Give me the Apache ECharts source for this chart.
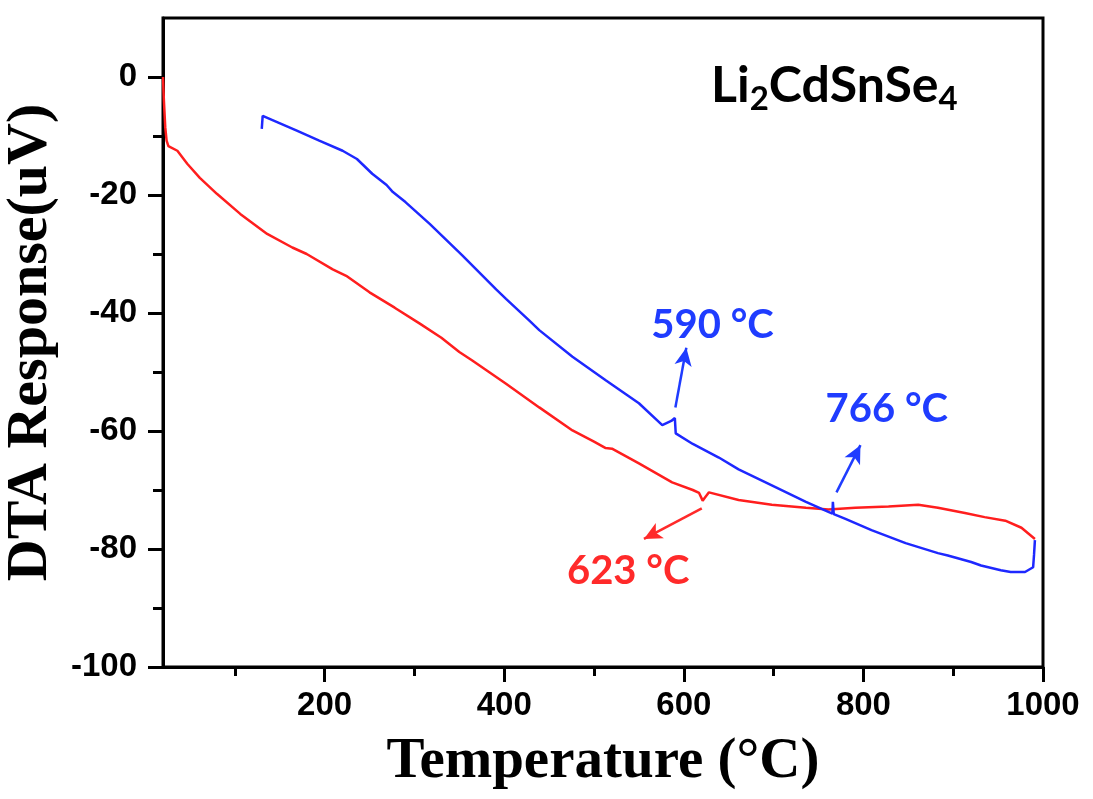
<!DOCTYPE html>
<html>
<head>
<meta charset="utf-8">
<script src="https://cdn.jsdelivr.net/npm/echarts@6/dist/echarts.min.js"></script>
<style>
html,body{margin:0;padding:0;background:#fff;}
#c{width:1093px;height:799px;}
</style>
</head>
<body>
<div id="c"></div>
<script>
// Heating curve (red): [Temperature °C, DTA uV]
var heating = [
  [20,0],[21,-4],[22.5,-8.5],[24,-10.8],[26,-11.7],[36,-12.5],[47,-14.7],[61,-17.1],
  [80,-19.8],[106,-23.2],[136,-26.6],[164,-28.9],[180,-30.0],[209,-32.6],[224,-33.7],
  [250,-36.5],[278,-39.1],[306,-41.8],[330,-44.2],[350,-46.6],[364,-48.0],[402,-52.0],
  [439,-56.0],[476,-59.9],[500,-61.8],[513,-62.9],[520,-63.0],[550,-65.5],[587,-68.7],
  [610,-70.0],[617,-70.5],[621,-71.8],[624,-71.2],[628,-70.4],[661,-71.7],[698,-72.5],
  [736,-73.0],[761,-73.3],[791,-73.0],[828,-72.8],[861,-72.5],[883,-73.0],[913,-73.9],
  [935,-74.6],[958,-75.2],[976,-76.4],[991,-78.3]
];
// Cooling curve (blue), in time order (temperature decreasing)
var cooling = [
  [991,-78.5],[990,-81.0],[989,-83.1],[980,-83.9],[964,-83.9],[953,-83.6],[931,-82.8],
  [920,-82.2],[894,-81.1],[883,-80.7],[847,-79.0],[809,-76.8],[780,-74.9],[767,-74.1],
  [766,-72.0],[765.5,-74.0],[761,-73.7],[736,-72.0],[698,-69.2],[661,-66.5],[639,-64.5],
  [610,-62.2],[591,-60.4],[590,-57.8],[586,-58.3],[576,-59.0],[550,-55.3],[513,-51.4],
  [476,-47.4],[439,-42.9],[428,-41.3],[402,-37.6],[391,-36.0],[353,-30.2],[317,-24.9],
  [290,-21.2],[276,-19.5],[269,-18.3],[253,-16.4],[236,-13.9],[220,-12.5],[194,-10.8],
  [169,-9.1],[131,-6.6],[130,-6.9],[130,-8.8]
];
var xTicks = [200,400,600,800,1000];
var xMinorTicks = [100,300,500,700,900];
var yTicks = [0,-20,-40,-60,-80,-100];
var yMinorTicks = [-10,-30,-50,-70,-90];

// Annotations
var annotTexts = ['590 °C','766 °C','623 °C'];
var annotPos = [[632,-42.1],[826,-56.3],[538,-83.8]];
var arrowFrom = [[590.6,-56.0],[770,-70.4],[620,-73.1]];
var arrowTo = [[602.8,-45.9],[796.7,-62.4],[555.6,-78.3]];
var annotColors = ['#1f3cff','#1f3cff','#ff2a2a'];

var RED = '#ff1e1e', BLUE = '#1e28ff';

function arrow(i){
  return {
    silent:true, symbol:['none','arrow'], symbolSize:[13,18], animation:false,
    label:{show:false},
    lineStyle:{color:annotColors[i], width:2.5, type:'solid'},
    data:[[{coord:arrowFrom[i]},{coord:arrowTo[i]}]]
  };
}

var tickFont = {fontFamily:'Liberation Sans', fontWeight:'bold', fontSize:33, color:'#000',
  formatter:function(v){ return String(v); }};
var chart = echarts.init(document.getElementById('c'), null, {renderer:'canvas'});
chart.setOption({
  animation:false,
  backgroundColor:'#fff',
  grid:{left:163, right:50, top:18, bottom:132, show:true, borderColor:'#000', borderWidth:3,
    backgroundColor:'transparent', containLabel:false, outerBoundsMode:'none'},
  title:{
    text:'{a|Li}{s|2}{a|CdSnSe}{s|4}',
    left:706, top:50,
    textStyle:{rich:{
      a:{fontFamily:'Lato', fontWeight:'bold', fontSize:50, color:'#000'},
      s:{fontFamily:'Lato', fontWeight:'bold', fontSize:33, color:'#000', padding:[28,0,0,0]}
    }}
  },
  xAxis:[{
    type:'value', min:20, max:1000,
    name:'Temperature (°C)', nameLocation:'middle', nameGap:67,
    nameTextStyle:{fontFamily:'Liberation Serif', fontWeight:'bold', fontSize:57, color:'#000'},
    axisLine:{show:true, onZero:false, lineStyle:{color:'#000', width:3}},
    axisTick:{show:true, inside:false, length:15, customValues:xTicks, lineStyle:{color:'#000', width:3}},
    axisLabel:Object.assign({show:true, customValues:xTicks, margin:22}, tickFont),
    splitLine:{show:false}
  },{
    type:'value', min:20, max:1000, position:'bottom', gridIndex:0,
    axisLine:{show:false, onZero:false},
    axisTick:{show:true, length:9, customValues:xMinorTicks, lineStyle:{color:'#000', width:3}},
    axisLabel:{show:false},
    splitLine:{show:false}
  }],
  yAxis:[{
    type:'value', min:-100, max:10,
    name:'DTA Response(uV)', nameLocation:'middle', nameGap:95,
    nameTextStyle:{fontFamily:'Liberation Serif', fontWeight:'bold', fontSize:58, color:'#000'},
    axisLine:{show:true, onZero:false, lineStyle:{color:'#000', width:3}},
    axisTick:{show:true, inside:false, length:15, customValues:yTicks, lineStyle:{color:'#000', width:3}},
    axisLabel:Object.assign({show:true, customValues:yTicks, margin:26}, tickFont),
    splitLine:{show:false}
  },{
    type:'value', min:-100, max:10, position:'left', gridIndex:0,
    axisLine:{show:false, onZero:false},
    axisTick:{show:true, length:10, customValues:yMinorTicks, lineStyle:{color:'#000', width:3}},
    axisLabel:{show:false},
    splitLine:{show:false}
  }],
  series:[
    {
      name:'heating', type:'line', data:heating, xAxisIndex:0, yAxisIndex:0,
      showSymbol:false, symbol:'none', lineStyle:{color:RED, width:2.5}, z:3,
      markLine:arrow(2)
    },
    {
      name:'cooling', type:'line', data:cooling, xAxisIndex:0, yAxisIndex:0,
      showSymbol:false, symbol:'none', lineStyle:{color:BLUE, width:2.5}, z:4,
      markLine:arrow(0)
    },
    {
      name:'cooling-766', type:'line', data:[], xAxisIndex:0, yAxisIndex:0,
      markLine:arrow(1)
    },
    {
      name:'labels', type:'scatter', xAxisIndex:0, yAxisIndex:0, symbolSize:2,
      itemStyle:{color:'rgba(255,255,255,0)'}, silent:true, z:6,
      labelLayout:{hideOverlap:false},
      data:annotTexts.map(function(t,i){
        return {value:annotPos[i], name:t,
          label:{show:true, position:'inside', formatter:t, color:annotColors[i],
            fontFamily:'Lato', fontWeight:'bold', fontSize:40, opacity:1}};
      })
    }
  ]
});
</script>
</body>
</html>
